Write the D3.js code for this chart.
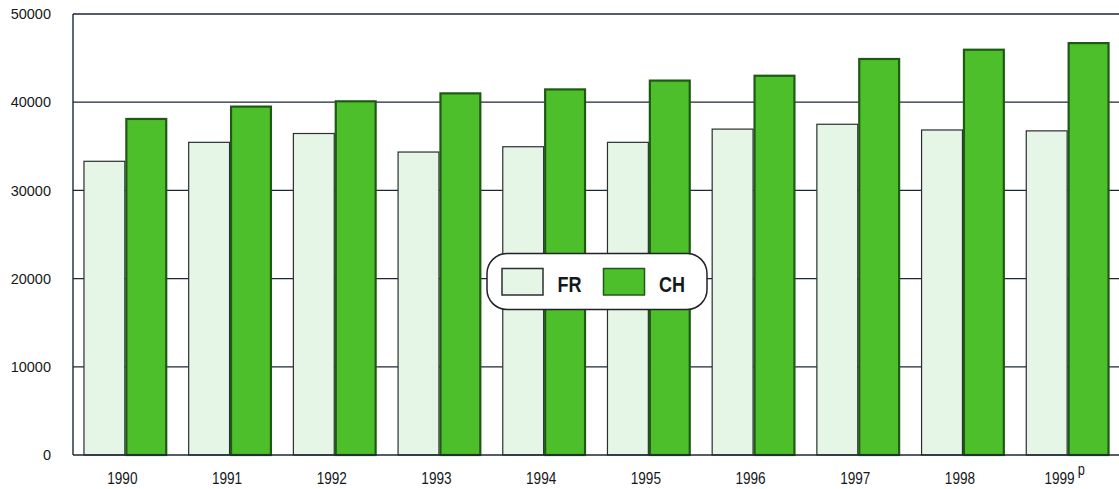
<!DOCTYPE html>
<html>
<head>
<meta charset="utf-8">
<script src="https://cdn.jsdelivr.net/npm/d3@7"></script>
<style>
  body { margin: 0; background: #fff; }
  svg text { font-family: "Liberation Sans", Arial, sans-serif; fill: #15191c; }
</style>
</head>
<body>
<div id="chart-container"></div>
<script>
const w = 1119;
const h = 489;

const years = ["1990", "1991", "1992", "1993", "1994", "1995", "1996", "1997", "1998", "1999"];
const frValues = [33300, 35450, 36450, 34350, 34950, 35450, 36950, 37500, 36850, 36750];
const chValues = [38100, 39500, 40100, 41000, 41450, 42450, 43000, 44900, 45950, 46700];
const yTicks = [0, 10000, 20000, 30000, 40000, 50000];
const seriesNames = ["FR", "CH"];

const margin = {left: 73, top: 14, bottom: 455, right: 1120};
const colors = {FR: "#e6f6e6", CH: "#4dbf2a"};
const strokes = {FR: "#2b2f33", CH: "#1e5a14"};

const svg = d3.select("#chart-container").append("svg").attr("width", w).attr("height", h);

//scales
const x = d3.scaleBand().domain(years).range([margin.left, margin.right]).paddingInner(0.2).paddingOuter(0.1);
const xSeries = d3.scaleBand().domain(seriesNames).range([0, x.bandwidth()]);
const y = d3.scaleLinear().domain([0, 50000]).range([margin.bottom, margin.top]);

//gridlines (behind bars)
svg.append("g")
    .selectAll("line")
    .data(yTicks.filter(d => d > 0 && d < 50000))
    .enter().append("line")
        .attr("x1", margin.left)
        .attr("x2", w)
        .attr("y1", d => y(d))
        .attr("y2", d => y(d))
        .style("stroke", "#1c2836")
        .style("stroke-width", 1.2);

//bars
const rows = years.map((yr, i) => ({year: yr, FR: frValues[i], CH: chValues[i]}));
const group = svg.append("g")
    .selectAll(".year")
    .data(rows)
    .enter().append("g")
        .attr("class", "year")
        .attr("transform", d => "translate(" + x(d.year) + ",0)");

group.selectAll("rect")
    .data(d => seriesNames.map(s => ({key: s, value: d[s]})))
    .enter().append("rect")
        .attr("x", d => xSeries(d.key) + (d.key == "CH" ? 1 : 0.5))
        .attr("width", d => xSeries.bandwidth() - (d.key == "CH" ? 2 : 1))
        .attr("y", d => y(d.value))
        .attr("height", d => y(0) - y(d.value))
        .style("fill", d => colors[d.key])
        .style("stroke", d => strokes[d.key])
        .style("stroke-width", d => d.key == "CH" ? 2.2 : 1.2);

//frame: top, left, bottom
svg.append("line").attr("x1", margin.left).attr("x2", w).attr("y1", y(50000)).attr("y2", y(50000))
    .style("stroke", "#1c2836").style("stroke-width", 1.4);
svg.append("line").attr("x1", margin.left).attr("x2", margin.left).attr("y1", y(50000)).attr("y2", y(0))
    .style("stroke", "#1c2836").style("stroke-width", 1.4);
svg.append("line").attr("x1", margin.left).attr("x2", w).attr("y1", y(0)).attr("y2", y(0))
    .style("stroke", "#1c2836").style("stroke-width", 1.6);

//y labels
svg.append("g")
    .selectAll("text")
    .data(yTicks)
    .enter().append("text")
        .attr("x", 51)
        .attr("y", d => y(d))
        .attr("dy", "0.36em")
        .attr("text-anchor", "end")
        .style("font-size", "14.5px")
        .text(d => d);

//x labels (slightly condensed)
const xl = svg.append("g")
    .selectAll("text")
    .data(years)
    .enter().append("text")
        .attr("transform", d => "translate(" + (x(d) + x.bandwidth() / 2 - 3) + ",484) scale(0.8,1)")
        .attr("text-anchor", "middle")
        .style("font-size", "17px");
xl.append("tspan").text(d => d);
xl.filter(d => d == "1999").append("tspan")
    .attr("dx", 4)
    .attr("dy", -9)
    .style("font-size", "16px")
    .text("p");

//legend
const legend = svg.append("g").attr("id", "legend");
legend.append("rect")
    .attr("x", 487).attr("y", 253.5)
    .attr("width", 220).attr("height", 56)
    .attr("rx", 20).attr("ry", 20)
    .style("fill", "#fff")
    .style("stroke", "#1e2326")
    .style("stroke-width", 1.5);

const legendX = {FR: 502, CH: 603.5};
seriesNames.forEach(s => {
    legend.append("rect")
        .attr("x", legendX[s]).attr("y", 268.5)
        .attr("width", 41).attr("height", 26.5)
        .style("fill", colors[s])
        .style("stroke", strokes[s])
        .style("stroke-width", 1.5);
    legend.append("text")
        .attr("transform", "translate(" + (legendX[s] + 55.5) + ",291.5) scale(0.82,1)")
        .style("font-size", "22px")
        .style("font-weight", "bold")
        .text(s);
});
</script>
</body>
</html>
